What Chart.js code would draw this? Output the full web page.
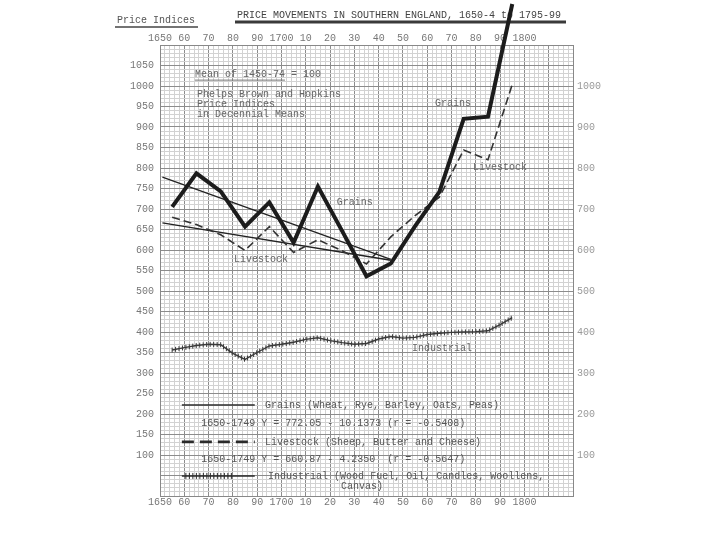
<!DOCTYPE html>
<html>
<head>
<meta charset="utf-8">
<script src="https://cdn.jsdelivr.net/npm/chart.js@4.4.0/dist/chart.umd.min.js"></script>
<style>
html, body { margin: 0; padding: 0; background: #fff; }
#wrap { width: 720px; height: 540px; }
</style>
</head>
<body>
<div id="wrap"><canvas id="chart" width="720" height="540"></canvas></div>
<script>
// Decennial means, plotted at mid-decade
const decadeYears = [1655, 1665, 1675, 1685, 1695, 1705, 1715, 1725, 1735, 1745, 1755, 1765, 1775, 1785, 1795];
const grains = [705, 787, 743, 657, 716, 618, 755, 646, 536, 567, 658, 742, 920, 925, 1200];
const livestock = [680, 662, 637, 599, 657, 594, 625, 598, 566, 632, 684, 729, 844, 820, 1004];

const industrialYears = [1655, 1660, 1665, 1670, 1675, 1680, 1685, 1690, 1695, 1700,
                         1705, 1710, 1715, 1720, 1725, 1730, 1735, 1740, 1745, 1750,
                         1755, 1760, 1765, 1770, 1775, 1780, 1785, 1790, 1795];
const industrial = [356, 362, 367, 370, 369, 348, 333, 350, 366, 370,
                    375, 382, 386, 379, 374, 370, 372, 383, 389, 385,
                    387, 394, 397, 399, 400, 401, 403, 418, 435];

// Linear trends 1650-1749
const trendYears = [1651, 1745];
const grainsTrend = [778, 577];
const livestockTrend = [666, 575];

// Axis labels
const decadeLabels = ["1650", "60", "70", "80", "90", "1700", "10", "20", "30", "40", "50", "60", "70", "80", "90", "1800"];
const leftTicks = [100, 150, 200, 250, 300, 350, 400, 450, 500, 550, 600, 650, 700, 750, 800, 850, 900, 950, 1000, 1050];
const rightTicks = [100, 200, 300, 400, 500, 600, 700, 800, 900, 1000];

const FONT = "Liberation Mono, DejaVu Sans Mono, monospace";

function xy(xs, ys) {
    return xs.map((x, i) => ({ x: x, y: ys[i] }));
}

function decadeLabel(v) {
    v = Math.round(v);
    if (v % 10 !== 0) return "";
    return decadeLabels[(v - 1650) / 10] || "";
}

// Small vertical ticks along the industrial line
const hatchPlugin = {
    id: "hatch",
    afterDatasetsDraw(chart) {
        const ctx = chart.ctx;
        chart.data.datasets.forEach((ds, i) => {
            if (!ds.hatched) return;
            const pts = chart.getDatasetMeta(i).data;
            ctx.save();
            ctx.strokeStyle = "#3a3a3a";
            ctx.lineWidth = 1;
            let carry = 0;
            for (let k = 1; k < pts.length; k++) {
                const a = pts[k - 1], b = pts[k];
                const len = Math.hypot(b.x - a.x, b.y - a.y);
                let t = carry;
                while (t <= len) {
                    const px = a.x + (b.x - a.x) * t / len;
                    const py = a.y + (b.y - a.y) * t / len;
                    ctx.beginPath();
                    ctx.moveTo(px, py - 2.5);
                    ctx.lineTo(px, py + 2.5);
                    ctx.stroke();
                    t += 3.5;
                }
                carry = t - len;
            }
            ctx.restore();
        });
    }
};

// Title, notes and the key drawn on the graph paper
const notesPlugin = {
    id: "notes",
    beforeDatasetsDraw(chart) {
        const ctx = chart.ctx;
        const sx = chart.scales.x, sy = chart.scales.y;
        const px = v => sx.getPixelForValue(v);
        const py = v => sy.getPixelForValue(v);
        ctx.save();
        ctx.textBaseline = "middle";
        ctx.textAlign = "left";

        // headings
        ctx.font = "10px " + FONT;
        ctx.fillStyle = "#555";
        ctx.fillText("Price Indices", 117, 20);
        ctx.strokeStyle = "#444";
        ctx.lineWidth = 1.5;
        ctx.beginPath(); ctx.moveTo(115, 27); ctx.lineTo(198, 27); ctx.stroke();

        ctx.fillStyle = "#444";
        ctx.fillText("PRICE MOVEMENTS IN SOUTHERN ENGLAND, 1650-4 to 1795-99", 237, 15);
        ctx.strokeStyle = "#3a3a3a";
        ctx.lineWidth = 3;
        ctx.beginPath(); ctx.moveTo(235, 22); ctx.lineTo(566, 22); ctx.stroke();

        // notes inside the grid
        ctx.fillStyle = "#666";
        ctx.fillText("Mean of 1450-74 = 100", px(1664.4), py(1029));
        ctx.strokeStyle = "#777";
        ctx.lineWidth = 1;
        ctx.beginPath(); ctx.moveTo(px(1664.4), py(1029) + 6); ctx.lineTo(px(1664.4) + 90, py(1029) + 6); ctx.stroke();
        ctx.fillText("Phelps Brown and Hopkins", px(1665.2), py(980));
        ctx.fillText("Price Indices", px(1665.2), py(956));
        ctx.fillText("in Decennial Means", px(1665.2), py(932));

        ctx.fillText("Grains", px(1763.2), py(958));
        ctx.fillText("Grains", px(1722.8), py(715));
        ctx.fillText("Livestock", px(1680.5), py(576));
        ctx.fillText("Livestock", px(1778.8), py(802));
        ctx.fillText("Industrial", px(1753.7), py(361));

        // key
        const x0 = px(1659), x1 = px(1689), tx = px(1693.2), ex = px(1667);
        ctx.strokeStyle = "#2a2a2a";
        ctx.lineWidth = 1.6;
        ctx.beginPath(); ctx.moveTo(x0, py(222)); ctx.lineTo(x1, py(222)); ctx.stroke();
        ctx.lineWidth = 2.6;
        ctx.setLineDash([12, 6]);
        ctx.beginPath(); ctx.moveTo(x0, py(132)); ctx.lineTo(x1, py(132)); ctx.stroke();
        ctx.setLineDash([]);
        ctx.lineWidth = 1.5;
        ctx.beginPath(); ctx.moveTo(x0, py(49)); ctx.lineTo(x1, py(49)); ctx.stroke();
        ctx.lineWidth = 1;
        for (let x = x0 + 4; x < x1 - 20; x += 3.5) {
            ctx.beginPath(); ctx.moveTo(x, py(49) - 3); ctx.lineTo(x, py(49) + 3); ctx.stroke();
        }

        ctx.fillStyle = "#555";
        ctx.fillText("Grains (Wheat, Rye, Barley, Oats, Peas)", tx, py(222));
        ctx.fillText("1650-1749 Y = 772.05 - 10.1373 (r = -0.5408)", ex, py(178));
        ctx.fillText("Livestock (Sheep, Butter and Cheese)", tx, py(132));
        ctx.fillText("1650-1749 Y = 660.87 - 4.2350  (r = -0.5647)", ex, py(90));
        ctx.fillText("Industrial (Wood Fuel, Oil, Candles, Woollens,", px(1694.5), py(49));
        ctx.fillText("Canvas)", px(1724.5), py(24));
        ctx.restore();
    }
};

const gridColor = (major) => ctx => {
    const v = Math.round(ctx.tick.value);
    return v % major === 0 ? "#8c8c8c" : "#d2d2d2";
};

new Chart(document.getElementById("chart"), {
    type: "line",
    data: {
        datasets: [
            {
                label: "Grains",
                data: xy(decadeYears, grains),
                borderColor: "#1c1c1c",
                borderWidth: 4,
                borderJoinStyle: "miter",
                pointRadius: 0,
                clip: false
            },
            {
                label: "Livestock",
                data: xy(decadeYears, livestock),
                borderColor: "#333",
                borderWidth: 1.6,
                borderDash: [8, 4],
                pointRadius: 0,
                clip: false
            },
            {
                label: "Industrial",
                data: xy(industrialYears, industrial),
                borderColor: "#3a3a3a",
                borderWidth: 1.4,
                pointRadius: 0,
                hatched: true
            },
            {
                label: "Grains trend",
                data: xy(trendYears, grainsTrend),
                borderColor: "#222",
                borderWidth: 1.3,
                pointRadius: 0
            },
            {
                label: "Livestock trend",
                data: xy(trendYears, livestockTrend),
                borderColor: "#222",
                borderWidth: 1.3,
                pointRadius: 0
            }
        ]
    },
    options: {
        responsive: false,
        animation: false,
        events: [],
        layout: { padding: 0 },
        plugins: {
            legend: { display: false },
            tooltip: { enabled: false }
        },
        scales: {
            x: {
                type: "linear",
                position: "bottom",
                min: 1650,
                max: 1820,
                ticks: {
                    stepSize: 2,
                    autoSkip: false,
                    maxRotation: 0,
                    padding: 0,
                    color: "#777",
                    font: { family: FONT, size: 10 },
                    callback: decadeLabel
                },
                grid: { color: gridColor(10), drawTicks: false },
                border: { color: "#888" },
                afterFit: s => { s.height = 44; }
            },
            xTop: {
                type: "linear",
                axis: "x",
                position: "top",
                min: 1650,
                max: 1820,
                ticks: {
                    stepSize: 2,
                    autoSkip: false,
                    maxRotation: 0,
                    padding: 1,
                    color: "#777",
                    font: { family: FONT, size: 10 },
                    callback: decadeLabel
                },
                grid: { display: false, drawTicks: false },
                border: { color: "#888" },
                afterFit: s => { s.height = 45; }
            },
            y: {
                position: "left",
                min: 0,
                max: 1100,
                ticks: {
                    stepSize: 10,
                    autoSkip: false,
                    padding: 6,
                    color: "#777",
                    font: { family: FONT, size: 10 },
                    callback: v => leftTicks.includes(Math.round(v)) ? String(Math.round(v)) : ""
                },
                grid: { color: gridColor(50), drawTicks: false },
                border: { color: "#888" },
                afterFit: s => { s.width = 160; }
            },
            y2: {
                position: "right",
                min: 0,
                max: 1100,
                ticks: {
                    stepSize: 10,
                    autoSkip: false,
                    padding: 4,
                    color: "#999",
                    font: { family: FONT, size: 10 },
                    callback: v => rightTicks.includes(Math.round(v)) ? String(Math.round(v)) : ""
                },
                grid: { display: false, drawTicks: false },
                border: { color: "#888" },
                afterFit: s => { s.width = 147; }
            }
        }
    },
    plugins: [notesPlugin, hatchPlugin]
});
</script>
</body>
</html>
